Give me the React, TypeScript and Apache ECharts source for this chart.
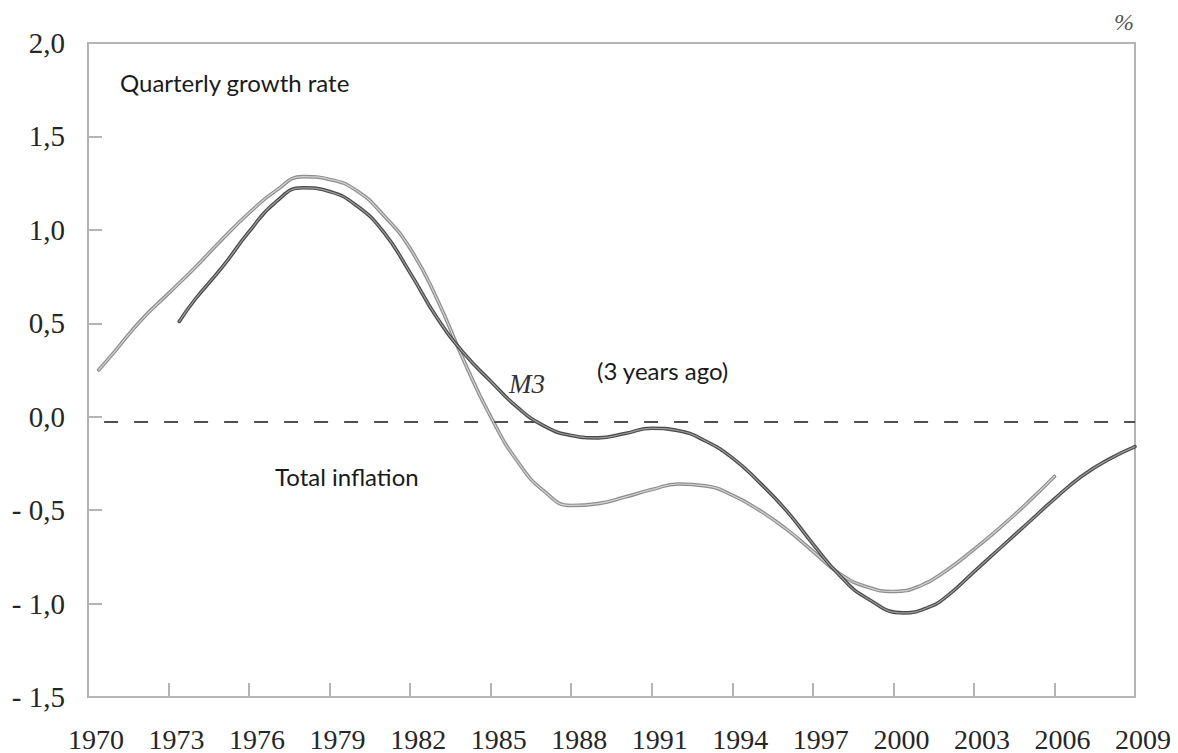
import React, { useEffect, useRef } from "react";
import * as echarts from "echarts";

const BASE_YEAR = 1970;
const xTickYears = [1970, 1973, 1976, 1979, 1982, 1985, 1988, 1991, 1994, 1997, 2000, 2003, 2006, 2009];
const yTicks = [-1.5, -1.0, -0.5, 0.0, 0.5, 1.0, 1.5, 2.0];

// Total inflation (light curve)
const inflationYears = [1970.4, 1971, 1972, 1973, 1974, 1975, 1976, 1977, 1978, 1979, 1980, 1981, 1982, 1983, 1984, 1985, 1986, 1987, 1988, 1989, 1990, 1991, 1992, 1993, 1994, 1995, 1996, 1997, 1998, 1999, 2000, 2001, 2002, 2003, 2004, 2005, 2006];
const inflationValues = [0.25, 0.35, 0.52, 0.66, 0.8, 0.95, 1.09, 1.21, 1.285, 1.27, 1.21, 1.08, 0.9, 0.63, 0.3, 0.0, -0.24, -0.4, -0.475, -0.465, -0.43, -0.39, -0.36, -0.37, -0.42, -0.5, -0.6, -0.72, -0.84, -0.91, -0.935, -0.905, -0.82, -0.71, -0.59, -0.46, -0.32];

// M3 (3 years ago) (dark curve)
const m3Years = [1973.4, 1974, 1975, 1976, 1977, 1978, 1979, 1980, 1981, 1982, 1983, 1984, 1985, 1986, 1987, 1988, 1989, 1990, 1991, 1992, 1993, 1994, 1995, 1996, 1997, 1998, 1999, 2000.4, 2001.3, 2002, 2003, 2004, 2005, 2006, 2007, 2008, 2009];
const m3Values = [0.51, 0.63, 0.8, 0.99, 1.15, 1.225, 1.205, 1.13, 0.99, 0.77, 0.53, 0.34, 0.19, 0.05, -0.05, -0.1, -0.113, -0.09, -0.062, -0.075, -0.13, -0.22, -0.35, -0.5, -0.68, -0.85, -0.97, -1.05, -1.02, -0.96, -0.83, -0.7, -0.57, -0.44, -0.32, -0.23, -0.16];

const referenceLevel = -0.025;
const referenceStartYear = 1970.6;

const serif = "'Liberation Serif', 'DejaVu Serif', serif";
const sans = "Lato, 'Open Sans', sans-serif";
const axisGray = "#b4b4b8";

export default function App() {
  const ref = useRef<HTMLDivElement>(null);

  useEffect(() => {
    document.body.style.margin = "0";
    if (!ref.current) return;
    const chart = echarts.init(ref.current, null, { renderer: "svg" });

    const toPairs = (ys: number[], vs: number[]) => ys.map((y, i) => [y - BASE_YEAR, vs[i]]);
    const inflationData = toPairs(inflationYears, inflationValues);
    const m3Data = toPairs(m3Years, m3Values);
    const xMin = xTickYears[0] - BASE_YEAR;
    const xMax = xTickYears[xTickYears.length - 1] - BASE_YEAR;

    const lineSeries = (name: string, data: number[][], color: string, width: number, z: number) => ({
      name,
      type: "line",
      data,
      smooth: true,
      showSymbol: false,
      symbol: "none",
      z,
      lineStyle: { color, width, cap: "round" },
    });

    const fmtY = (v: number) => {
      const s = Math.abs(v).toFixed(1).replace(".", ",");
      return v < 0 ? "- " + s : s;
    };

    chart.setOption({
      animation: false,
      backgroundColor: "#ffffff",
      grid: {
        left: 88,
        right: 43,
        top: 43,
        bottom: 56,
        show: true,
        borderColor: axisGray,
        borderWidth: 2,
        backgroundColor: "transparent",
      },
      xAxis: {
        type: "value",
        min: xMin,
        max: xMax,
        interval: 3,
        axisLine: { show: true, onZero: false, lineStyle: { color: axisGray, width: 2 } },
        axisTick: { show: true, inside: true, length: 14, lineStyle: { color: axisGray, width: 2 } },
        splitLine: { show: false },
        axisLabel: {
          margin: 28,
          fontFamily: serif,
          fontSize: 28,
          color: "#262626",
          padding: [0, 0, 0, 16],
          showMinLabel: true,
          showMaxLabel: true,
          formatter: (v: number) => String(Math.round(v) + BASE_YEAR),
        },
      },
      yAxis: {
        type: "value",
        min: yTicks[0],
        max: yTicks[yTicks.length - 1],
        interval: 0.5,
        axisLine: { show: true, onZero: false, lineStyle: { color: axisGray, width: 2 } },
        axisTick: { show: true, inside: true, length: 14, lineStyle: { color: axisGray, width: 2 } },
        splitLine: { show: false },
        axisLabel: {
          margin: 23,
          fontFamily: serif,
          fontSize: 29,
          color: "#262626",
          formatter: fmtY,
        },
      },
      series: [
        {
          ...lineSeries("Total inflation", inflationData, "#8e8e8e", 3.6, 2),
          markLine: {
            silent: true,
            symbol: "none",
            label: { show: false },
            lineStyle: { color: "#505050", width: 2, type: [14, 16] },
            data: [
              [
                { coord: [referenceStartYear - BASE_YEAR, referenceLevel] },
                { coord: [xMax, referenceLevel] },
              ],
            ],
          },
        },
        lineSeries("Total inflation inner", inflationData, "#d2d2d2", 1.2, 3),
        lineSeries("M3 (3 years ago)", m3Data, "#4a4a4a", 3.6, 4),
        lineSeries("M3 inner", m3Data, "#9c9c9c", 1.2, 5),
      ],
      graphic: [
        {
          type: "text",
          left: 120,
          top: 70,
          style: { text: "Quarterly growth rate", font: `24px ${sans}`, fill: "#1a1a1a" },
        },
        {
          type: "text",
          left: 275,
          top: 464,
          style: { text: "Total inflation", font: `24px ${sans}`, fill: "#1a1a1a" },
        },
        {
          type: "text",
          left: 597,
          top: 358,
          style: { text: "(3 years ago)", font: `24px ${sans}`, fill: "#1a1a1a" },
        },
        {
          type: "text",
          left: 509,
          top: 370,
          style: { text: "M3", font: `italic 27px ${serif}`, fill: "#333333" },
        },
        {
          type: "text",
          left: 1114,
          top: 10,
          style: { text: "%", font: `italic 24px ${serif}`, fill: "#555555" },
        },
      ],
    });

    return () => chart.dispose();
  }, []);

  return <div ref={ref} style={{ width: 1178, height: 753 }} />;
}
